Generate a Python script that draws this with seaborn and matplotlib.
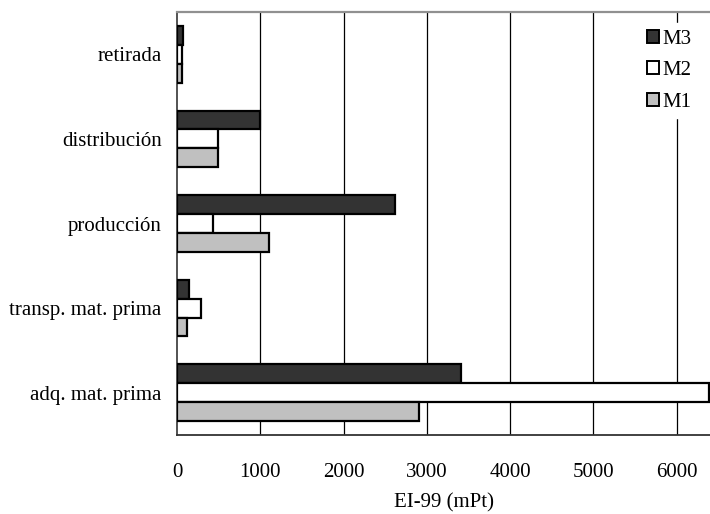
import matplotlib
matplotlib.use("Agg")
import matplotlib.pyplot as plt
import seaborn as sns
import pandas as pd
from matplotlib.patches import Patch

# Life-cycle stages (top to bottom) and EI-99 scores per model, in mPt
stages = ["retirada", "distribución", "producción", "transp. mat. prima", "adq. mat. prima"]
models = ["M3", "M2", "M1"]
m3_values = [75, 1000, 2620, 140, 3410]
m2_values = [65, 490, 430, 290, 6390]
m1_values = [65, 490, 1100, 120, 2910]
x_ticks = [0, 1000, 2000, 3000, 4000, 5000, 6000]

colors = {"M3": "#333333", "M2": "#ffffff", "M1": "#c0c0c0"}

df = pd.DataFrame({
    "etapa": stages * 3,
    "modelo": ["M3"] * 5 + ["M2"] * 5 + ["M1"] * 5,
    "valor": m3_values + m2_values + m1_values,
})

sns.set_style("white")
plt.rcParams["font.family"] = ["Liberation Serif", "DejaVu Serif"]
plt.rcParams["text.color"] = "black"
plt.rcParams["xtick.labelcolor"] = "black"
plt.rcParams["ytick.labelcolor"] = "black"
plt.rcParams["axes.labelcolor"] = "black"

fs = 15

fig = plt.figure(figsize=(7.10, 5.14), dpi=100)
ax = fig.add_axes([177 / 710, 1 - 435 / 514, 1 - 177 / 710, (435 - 12) / 514])

sns.barplot(
    data=df, y="etapa", x="valor", hue="modelo",
    order=stages, hue_order=models, palette=colors,
    orient="h", width=0.67, edgecolor="black", linewidth=1.6,
    legend=False, ax=ax, zorder=3,
)

ax.set_xlim(0, 6400)
ax.set_ylim(len(stages) - 0.5, -0.5)
ax.set_xticks(x_ticks)
ax.set_xticklabels([str(t) for t in x_ticks], fontsize=fs)
ax.set_yticks([i for i in range(len(stages))])
ax.set_yticklabels(stages, fontsize=fs)
ax.set_xlabel("EI-99 (mPt)", fontsize=fs, labelpad=8)
ax.set_ylabel("")

# vertical gridlines
for t in x_ticks[1:]:
    ax.axvline(t, color="black", linewidth=0.9, zorder=1)

# category separator ticks on the y axis
ax.tick_params(axis="y", which="major", length=0, pad=11)
ax.set_yticks([i - 0.5 for i in range(len(stages) + 1)], minor=True)
ax.tick_params(axis="y", which="minor", length=6, width=1, color="#333333", direction="out")
ax.tick_params(axis="x", which="major", length=6, width=1, color="#333333",
               direction="inout", pad=17)

for side in ["top", "bottom", "left"]:
    ax.spines[side].set_visible(True)
ax.spines["top"].set_color("#909090")
ax.spines["top"].set_linewidth(1.6)
ax.spines["bottom"].set_color("#333333")
ax.spines["bottom"].set_linewidth(1.3)
ax.spines["left"].set_color("#444444")
ax.spines["left"].set_linewidth(1.3)
ax.spines["right"].set_visible(False)

handles = [Patch(facecolor=colors[m], edgecolor="black", linewidth=1.4, label=m) for m in models]
leg = ax.legend(handles=handles, loc="upper right", bbox_to_anchor=(0.997, 0.998),
                frameon=True, framealpha=1, edgecolor="white", fancybox=False,
                fontsize=fs, handlelength=0.6, handleheight=0.6,
                handletextpad=0.15, labelspacing=0.6, borderpad=0.3)
leg.set_zorder(5)

fig.savefig("out.png", dpi=100)
